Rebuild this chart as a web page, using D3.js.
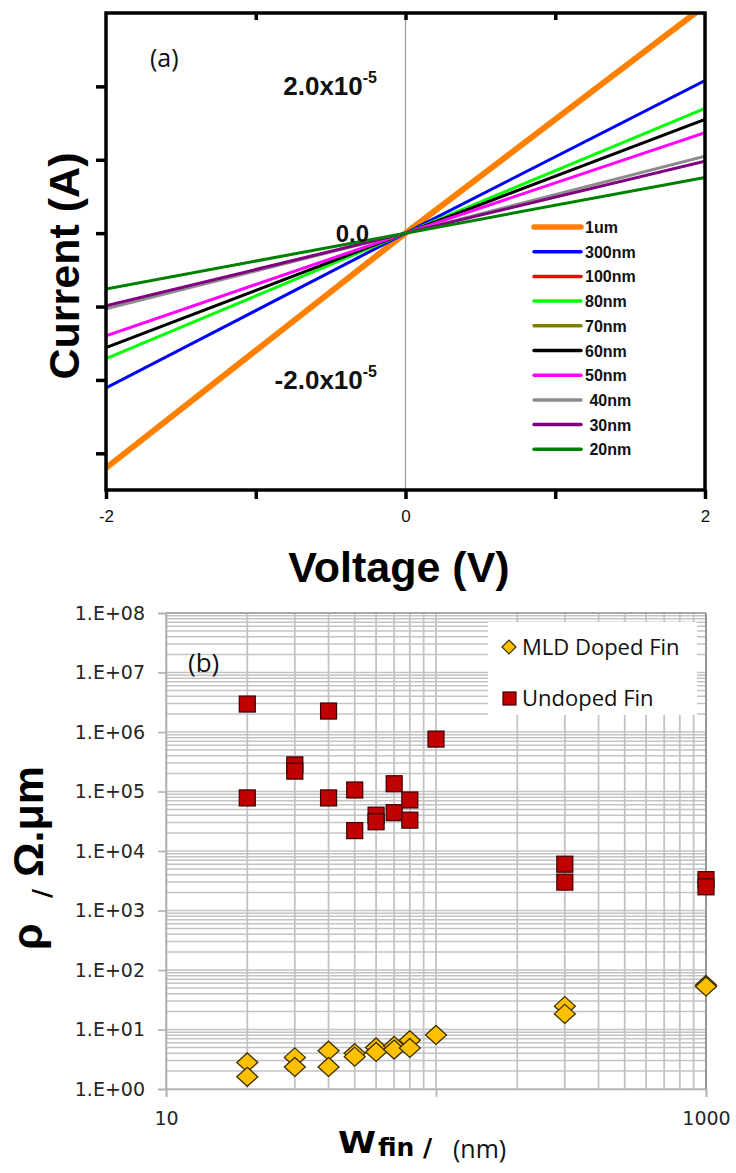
<!DOCTYPE html>
<html>
<head>
<meta charset="utf-8">
<script src="https://cdn.jsdelivr.net/npm/d3@7"></script>
<style>
  body { margin: 0; background: #fff; }
  svg { display: block; }
</style>
</head>
<body>
<svg id="fig" width="736" height="1173"></svg>
<script>
// ---------- (a) I–V sweeps for each fin width ----------
const voltages = [-2, 0, 2];
const seriesNames  = ["1um", "300nm", "100nm", "80nm", "70nm", "60nm", "50nm", " 40nm", " 30nm", " 20nm"];
const seriesColors = ["#ff8000", "#0000ff", "#ff0000", "#00ff00", "#808000", "#000000", "#ff00ff", "#8c8c8c", "#800080", "#008000"];
const i1um   = [-3.2e-5, 0, 3.1e-5];
const i300nm = [-2.11e-5, 0, 2.08e-5];
const i100nm = null;
const i80nm  = [-1.71e-5, 0, 1.70e-5];
const i70nm  = null;
const i60nm  = [-1.56e-5, 0, 1.55e-5];
const i50nm  = [-1.40e-5, 0, 1.37e-5];
const i40nm  = [-1.03e-5, 0, 1.05e-5];
const i30nm  = [-0.99e-5, 0, 0.98e-5];
const i20nm  = [-0.76e-5, 0, 0.76e-5];
const seriesCurrents = [i1um, i300nm, i100nm, i80nm, i70nm, i60nm, i50nm, i40nm, i30nm, i20nm];
const currentTicks = [-3e-5, -2e-5, -1e-5, 0, 1e-5, 2e-5];
const currentLabelValues = [2e-5, 0, -2e-5];
const currentLabelMantissa = ["2.0x10", "0.0", "-2.0x10"];
const currentLabelExponent = ["-5", "", "-5"];
const voltageTicks = [-2, -1, 0, 1, 2];
const voltageLabels = ["-2", "", "0", "", "2"];

// ---------- (b) resistivity versus fin width ----------
const dopedWidth   = [20, 20, 30, 30, 40, 40, 50, 50, 60, 60, 70, 70, 80, 80, 100, 300, 300, 1000, 1000];
const dopedRho     = [2.8, 1.6, 3.4, 2.35, 4.4, 2.35, 4.0, 3.5, 5.0, 4.2, 5.3, 4.6, 6.6, 4.9, 8.1, 24.7, 18.3, 56, 53];
const undopedWidth = [20, 20, 30, 30, 40, 40, 50, 50, 60, 60, 70, 70, 80, 80, 100, 300, 300, 1000, 1000];
const undopedRho   = [2.95e6, 7.8e4, 2.8e5, 2.2e5, 2.25e6, 7.8e4, 1.06e5, 2.2e4, 4.0e4, 3.1e4, 1.35e5, 4.4e4, 7.2e4, 3.3e4, 7.6e5, 6.0e3, 3.0e3, 3.3e3, 2.5e3];
const rhoTicks = [1, 1e1, 1e2, 1e3, 1e4, 1e5, 1e6, 1e7, 1e8];
const rhoTickLabels = ["1.E+00", "1.E+01", "1.E+02", "1.E+03", "1.E+04", "1.E+05", "1.E+06", "1.E+07", "1.E+08"];
const widthTicks = [10, 100, 1000];
const widthTickLabels = ["10", "", "1000"];
const legendB = ["MLD Doped Fin", "Undoped Fin"];

const svg = d3.select("#fig");
const ARIAL = "'Liberation Sans', Arial, sans-serif";
const DEJAVU = "'DejaVu Sans', sans-serif";
const SOFT = "'Open Sans', sans-serif";

// ================= panel (a) =================
const xA = d3.scaleLinear().domain([-2, 2]).range([106, 705]);
const yA = d3.scaleLinear().domain([-3.5e-5, 3e-5]).range([490, 13]);
const gA = svg.append("g");

gA.append("clipPath").attr("id", "clipA")
  .append("rect").attr("x", xA(-2)).attr("y", yA(3e-5))
  .attr("width", xA(2) - xA(-2)).attr("height", yA(-3.5e-5) - yA(3e-5));

// zero-voltage guide
gA.append("line")
  .attr("x1", xA(0)).attr("x2", xA(0)).attr("y1", yA(3e-5)).attr("y2", yA(-3.5e-5))
  .attr("stroke", "#a0a0a0").attr("stroke-width", 1.3);

// sweep lines
const lineA = d3.line().x((d, i) => xA(voltages[i])).y(d => yA(d));
const linesG = gA.append("g").attr("clip-path", "url(#clipA)");
seriesCurrents.forEach((vals, k) => {
  if (!vals) return;
  linesG.append("path").datum(vals)
    .attr("d", lineA).attr("fill", "none")
    .attr("stroke", seriesColors[k])
    .attr("stroke-width", k === 0 ? 6 : 3);
});

// frame
gA.append("rect")
  .attr("x", xA(-2)).attr("y", yA(3e-5))
  .attr("width", xA(2) - xA(-2)).attr("height", yA(-3.5e-5) - yA(3e-5))
  .attr("fill", "none").attr("stroke", "#000").attr("stroke-width", 3.5);

// axes
const styleTicksA = sel => {
  sel.select(".domain").remove();
  sel.selectAll(".tick line").attr("stroke", "#000").attr("stroke-width", 3.5);
};
gA.append("g").attr("transform", `translate(${xA(-2)},0)`)
  .call(d3.axisLeft(yA).tickValues(currentTicks).tickSize(10).tickFormat(""))
  .call(styleTicksA);
gA.append("g").attr("transform", `translate(0,${yA(-3.5e-5)})`)
  .call(d3.axisBottom(xA).tickValues(voltageTicks).tickSize(9).tickPadding(11)
        .tickFormat((d, i) => voltageLabels[i]))
  .call(styleTicksA)
  .call(s => s.selectAll("text").attr("font-family", ARIAL).attr("font-size", 17).attr("fill", "#111"));
gA.append("g").attr("transform", `translate(0,${yA(3e-5)})`)
  .call(d3.axisTop(xA).tickValues([-1, 0, 1]).tickSize(-7).tickFormat(""))
  .call(styleTicksA);

// current labels drawn inside the frame
currentLabelValues.forEach((v, i) => {
  const hasExp = currentLabelExponent[i] !== "";
  const t = gA.append("text")
    .attr("x", hasExp ? 377 : 369)
    .attr("y", yA(v) + 9)
    .attr("text-anchor", "end")
    .attr("font-family", ARIAL).attr("font-weight", "bold")
    .attr("font-size", hasExp ? 26 : 24).attr("fill", "#111");
  t.append("tspan").text(currentLabelMantissa[i]);
  if (hasExp) {
    t.append("tspan").attr("dy", -12).attr("font-size", 16).text(currentLabelExponent[i]);
  }
});

// legend
const legA = gA.append("g");
seriesNames.forEach((name, k) => {
  const y = 227 + k * 24.7;
  legA.append("line").attr("x1", 534).attr("x2", 581).attr("y1", y).attr("y2", y)
    .attr("stroke", seriesColors[k]).attr("stroke-width", k === 0 ? 5.5 : 3.5)
    .attr("stroke-linecap", "round");
  legA.append("text").attr("x", 585).attr("y", y + 6)
    .attr("font-family", ARIAL).attr("font-weight", "bold").attr("font-size", 16)
    .attr("fill", "#111").style("white-space", "pre").text(name);
});

gA.append("text").attr("x", 150).attr("y", 67)
  .attr("font-family", SOFT).attr("font-size", 25).attr("fill", "#111").text("(a)");

gA.append("text")
  .attr("transform", "translate(79,266) rotate(-90)")
  .attr("text-anchor", "middle")
  .attr("font-family", ARIAL).attr("font-weight", "bold").attr("font-size", 43).attr("fill", "#000")
  .text("Current (A)");
gA.append("text")
  .attr("x", 399).attr("y", 582).attr("text-anchor", "middle")
  .attr("font-family", ARIAL).attr("font-weight", "bold").attr("font-size", 43).attr("fill", "#000")
  .text("Voltage (V)");

// ================= panel (b) =================
const xB = d3.scaleLog().domain([10, 1000]).range([166, 706]);
const yB = d3.scaleLog().domain([1, 1e8]).range([1089, 613]);
const gB = svg.append("g");

// grid lines at every 1..9 step of each decade
const gridX = [], gridY = [];
[10, 100].forEach(n => { for (let k = 1; k <= 9; k++) gridX.push(k * n); });
gridX.push(1000);
[1, 10, 100, 1e3, 1e4, 1e5, 1e6, 1e7].forEach(n => { for (let k = 1; k <= 9; k++) gridY.push(k * n); });
gridY.push(1e8);

const gridCol = "#c3c3c3";
gB.append("g").selectAll("line").data(gridY).join("line")
  .attr("x1", xB(10)).attr("x2", xB(1000)).attr("y1", d => yB(d)).attr("y2", d => yB(d))
  .attr("stroke", gridCol).attr("stroke-width", 1.5);
gB.append("g").selectAll("line").data(gridX).join("line")
  .attr("x1", d => xB(d)).attr("x2", d => xB(d)).attr("y1", yB(1)).attr("y2", yB(1e8))
  .attr("stroke", gridCol).attr("stroke-width", 1.8);

// plot edges
gB.append("line").attr("x1", xB(10)).attr("x2", xB(1000)).attr("y1", yB(1e8)).attr("y2", yB(1e8))
  .attr("stroke", "#9a9a9a").attr("stroke-width", 1.6);
gB.append("line").attr("x1", xB(1000)).attr("x2", xB(1000)).attr("y1", yB(1e8)).attr("y2", yB(1))
  .attr("stroke", "#8a8a8a").attr("stroke-width", 1.6);

const styleAxisB = sel => {
  sel.select(".domain").attr("stroke", "#b0b0b0").attr("stroke-width", 1.6);
  sel.selectAll(".tick line").attr("stroke", "#b0b0b0").attr("stroke-width", 1.6);
  sel.selectAll("text").attr("font-family", DEJAVU).attr("font-size", 19).attr("fill", "#262626");
};
gB.append("g").attr("transform", `translate(${xB(10)},0)`)
  .call(d3.axisLeft(yB).tickValues(rhoTicks).tickSize(8).tickPadding(13)
        .tickFormat((d, i) => rhoTickLabels[i]))
  .call(styleAxisB);
gB.append("g").attr("transform", `translate(0,${yB(1)})`)
  .call(d3.axisBottom(xB).tickValues(widthTicks).tickSize(8).tickPadding(15)
        .tickFormat((d, i) => widthTickLabels[i]))
  .call(styleAxisB);

// legend box
gB.append("rect").attr("x", 488).attr("y", 622).attr("width", 209).attr("height", 93).attr("fill", "#fff");

const diamond = (cx, cy, hw, hh) => `M${cx},${cy - hh}L${cx + hw},${cy}L${cx},${cy + hh}L${cx - hw},${cy}Z`;
const dFill = "#ffc000", dStroke = "#3b2f00";
const sFill = "#c00000", sStroke = "#3a0000";

// markers
gB.append("g").selectAll("path").data(dopedRho).join("path")
  .attr("d", (d, i) => diamond(xB(dopedWidth[i]), yB(d), 10.5, 9.5))
  .attr("fill", dFill).attr("stroke", dStroke).attr("stroke-width", 1.3);
gB.append("g").selectAll("rect").data(undopedRho).join("rect")
  .attr("x", (d, i) => xB(undopedWidth[i]) - 8).attr("y", d => yB(d) - 8)
  .attr("width", 16).attr("height", 16)
  .attr("fill", sFill).attr("stroke", sStroke).attr("stroke-width", 1.2);

// legend entries
gB.append("path").attr("d", diamond(509, 647, 7, 7)).attr("fill", dFill).attr("stroke", dStroke).attr("stroke-width", 1.2);
gB.append("rect").attr("x", 503).attr("y", 692).attr("width", 13).attr("height", 13)
  .attr("fill", sFill).attr("stroke", sStroke).attr("stroke-width", 1.2);
gB.append("text").attr("x", 522).attr("y", 655).attr("font-family", SOFT).attr("font-size", 22).attr("fill", "#111").text(legendB[0]);
gB.append("text").attr("x", 522).attr("y", 706).attr("font-family", SOFT).attr("font-size", 22).attr("fill", "#111").text(legendB[1]);

gB.append("text").attr("x", 188).attr("y", 672)
  .attr("font-family", SOFT).attr("font-size", 26).attr("fill", "#111").text("(b)");

// axis titles
gB.append("text").attr("transform", "translate(42,950) rotate(-90)")
  .attr("font-family", ARIAL).attr("font-weight", "bold").attr("font-size", 43).attr("fill", "#000").text("ρ");
gB.append("text").attr("transform", "translate(50,898) rotate(-90)")
  .attr("font-family", DEJAVU).attr("font-weight", "bold").attr("font-size", 25).attr("fill", "#000").text("/");
gB.append("text").attr("transform", "translate(43,877) rotate(-90)")
  .attr("font-family", ARIAL).attr("font-weight", "bold").attr("font-size", 43).attr("fill", "#000").text("Ω.μm");

gB.append("text").attr("x", 338).attr("y", 1153)
  .attr("font-family", DEJAVU).attr("font-weight", "bold").attr("font-size", 30)
  .attr("textLength", 38).attr("lengthAdjust", "spacingAndGlyphs").attr("fill", "#000").text("W");
gB.append("text").attr("x", 378).attr("y", 1156)
  .attr("font-family", DEJAVU).attr("font-weight", "bold").attr("font-size", 25).attr("fill", "#000").text("fin /");
gB.append("text").attr("x", 453).attr("y", 1158)
  .attr("font-family", SOFT).attr("font-size", 25).attr("fill", "#111").text("(nm)");
</script>
</body>
</html>
